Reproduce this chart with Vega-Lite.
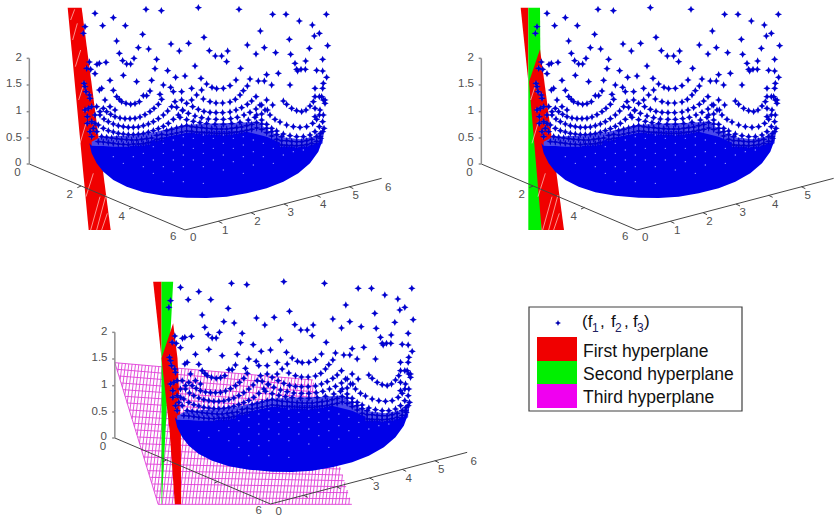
{"$schema":"https://vega.github.io/schema/vega-lite/v6.json","padding":0,"bounds":"flush","spacing":0,"columns":2,
"config":{"view":{"stroke":null},"font":"Liberation Sans","concat":{"spacing":0}},
"datasets":{
"stars":[{"x":285,"y":40},{"x":340,"y":53},{"x":438,"y":28},{"x":484,"y":32},{"x":595,"y":23},{"x":717,"y":28},{"x":818,"y":43},{"x":858,"y":43},{"x":979,"y":43},{"x":898,"y":63},{"x":937,"y":75},{"x":308,"y":77},{"x":376,"y":77},{"x":255,"y":80},{"x":250,"y":100},{"x":781,"y":93},{"x":958,"y":100},{"x":943,"y":108},{"x":428,"y":103},{"x":612,"y":112},{"x":350,"y":123},{"x":868,"y":118},{"x":983,"y":137},{"x":513,"y":132},{"x":566,"y":130},{"x":742,"y":135},{"x":793,"y":143},{"x":628,"y":152},{"x":683,"y":153},{"x":538,"y":153},{"x":446,"y":147},{"x":928,"y":145},{"x":358,"y":160},{"x":415,"y":143},{"x":402,"y":175},{"x":368,"y":182},{"x":380,"y":192},{"x":392,"y":192},{"x":768,"y":162},{"x":827,"y":158},{"x":646,"y":168},{"x":665,"y":168},{"x":872,"y":163},{"x":917,"y":183},{"x":968,"y":178},{"x":470,"y":178},{"x":680,"y":185},{"x":885,"y":190},{"x":318,"y":187},{"x":298,"y":190},{"x":291,"y":193},{"x":268,"y":186},{"x":585,"y":198},{"x":722,"y":205},{"x":465,"y":206},{"x":260,"y":205},{"x":272,"y":208},{"x":950,"y":211},{"x":968,"y":213},{"x":890,"y":208},{"x":893,"y":213},{"x":903,"y":208},{"x":916,"y":208},{"x":800,"y":224},{"x":835,"y":220},{"x":503,"y":212},{"x":285,"y":221},{"x":370,"y":226},{"x":527,"y":232},{"x":555,"y":228},{"x":603,"y":235},{"x":750,"y":237},{"x":980,"y":232},{"x":970,"y":250},{"x":775,"y":243},{"x":793,"y":243},{"x":708,"y":240},{"x":455,"y":241},{"x":410,"y":245},{"x":330,"y":241},{"x":870,"y":255},{"x":815,"y":255},{"x":252,"y":250},{"x":968,"y":265},{"x":945,"y":265},{"x":305,"y":265},{"x":298,"y":270},{"x":340,"y":271},{"x":490,"y":255},{"x":512,"y":262},{"x":620,"y":252},{"x":636,"y":262},{"x":650,"y":266},{"x":670,"y":265},{"x":690,"y":257},{"x":742,"y":258},{"x":730,"y":272},{"x":545,"y":275},{"x":575,"y":265},{"x":605,"y":270},{"x":520,"y":275},{"x":430,"y":287},{"x":450,"y":273},{"x":480,"y":283},{"x":575,"y":300},
{"x":350,"y":290},{"x":358,"y":298},{"x":365,"y":305},{"x":378,"y":310},{"x":392,"y":313},{"x":405,"y":311},{"x":418,"y":305},{"x":440,"y":287},
{"x":590,"y":285},{"x":610,"y":297},{"x":630,"y":305},{"x":648,"y":309},{"x":668,"y":309},{"x":690,"y":306},{"x":706,"y":298},{"x":720,"y":285},
{"x":850,"y":303},{"x":860,"y":313},{"x":875,"y":325},{"x":890,"y":332},{"x":905,"y":335},{"x":918,"y":330},{"x":930,"y":318},{"x":940,"y":305},{"x":945,"y":290},
{"x":310,"y":325},{"x":320,"y":335},{"x":332,"y":343},{"x":345,"y":350},{"x":360,"y":354},{"x":375,"y":356},{"x":390,"y":356},{"x":405,"y":355},{"x":420,"y":351},{"x":435,"y":344},{"x":450,"y":335},{"x":462,"y":325},{"x":475,"y":313},{"x":485,"y":298},
{"x":300,"y":345},{"x":312,"y":357},{"x":325,"y":365},{"x":340,"y":372},{"x":355,"y":377},{"x":370,"y":380},{"x":385,"y":382},{"x":400,"y":382},{"x":415,"y":381},{"x":430,"y":377},{"x":445,"y":372},{"x":460,"y":365},{"x":475,"y":356},{"x":490,"y":345},{"x":503,"y":333},{"x":515,"y":320},{"x":525,"y":305},
{"x":295,"y":375},{"x":310,"y":385},{"x":325,"y":392},{"x":340,"y":396},{"x":355,"y":400},{"x":370,"y":402},{"x":385,"y":404},{"x":400,"y":404},{"x":415,"y":403},{"x":430,"y":401},{"x":445,"y":397},{"x":460,"y":392},{"x":475,"y":386},{"x":490,"y":379},{"x":505,"y":370},{"x":520,"y":358},{"x":535,"y":345},{"x":548,"y":330},
{"x":545,"y":300},{"x":560,"y":310},{"x":578,"y":320},{"x":595,"y":328},{"x":612,"y":334},{"x":630,"y":337},{"x":648,"y":338},{"x":668,"y":338},{"x":690,"y":336},{"x":708,"y":330},{"x":725,"y":323},{"x":742,"y":313},{"x":755,"y":303},{"x":768,"y":290},
{"x":530,"y":322},{"x":548,"y":332},{"x":565,"y":340},{"x":585,"y":348},{"x":605,"y":353},{"x":625,"y":357},{"x":648,"y":358},{"x":670,"y":358},{"x":692,"y":356},{"x":712,"y":352},{"x":732,"y":345},{"x":750,"y":337},{"x":768,"y":327},{"x":785,"y":315},{"x":800,"y":300},
{"x":540,"y":352},{"x":560,"y":359},{"x":580,"y":364},{"x":600,"y":368},{"x":620,"y":371},{"x":645,"y":373},{"x":670,"y":373},{"x":695,"y":371},{"x":720,"y":367},{"x":745,"y":360},{"x":765,"y":352},{"x":785,"y":342},{"x":802,"y":330},{"x":818,"y":315},
{"x":780,"y":315},{"x":795,"y":330},{"x":810,"y":345},{"x":825,"y":358},{"x":840,"y":366},{"x":860,"y":375},{"x":880,"y":380},{"x":900,"y":382},{"x":920,"y":380},{"x":938,"y":370},{"x":950,"y":358},{"x":958,"y":345},
{"x":770,"y":345},{"x":785,"y":360},{"x":800,"y":373},{"x":815,"y":385},{"x":830,"y":393},{"x":850,"y":402},{"x":870,"y":407},{"x":890,"y":410},{"x":910,"y":410},{"x":930,"y":405},{"x":945,"y":395},{"x":958,"y":380},
{"x":970,"y":300},{"x":965,"y":290},{"x":958,"y":290},{"x":975,"y":300},{"x":975,"y":310},{"x":970,"y":345},{"x":968,"y":365},{"x":972,"y":385},{"x":968,"y":395},{"x":960,"y":410},{"x":945,"y":325},{"x":960,"y":330},{"x":945,"y":350},
{"x":255,"y":260},{"x":258,"y":275},{"x":268,"y":285},{"x":270,"y":295},{"x":255,"y":330},{"x":265,"y":325},{"x":275,"y":320},{"x":262,"y":350},{"x":262,"y":370},{"x":275,"y":365},{"x":285,"y":370},{"x":280,"y":385},{"x":290,"y":395},{"x":270,"y":395},{"x":275,"y":410},{"x":285,"y":345},{"x":290,"y":320},{"x":300,"y":335},{"x":315,"y":300},{"x":330,"y":320},{"x":345,"y":330},
{"x":500,"y":392},{"x":515,"y":388},{"x":530,"y":384},{"x":545,"y":380},{"x":560,"y":377},{"x":575,"y":380},{"x":590,"y":382},{"x":605,"y":383},{"x":620,"y":385},{"x":635,"y":386},{"x":650,"y":387},{"x":665,"y":387},{"x":680,"y":387},{"x":695,"y":385},{"x":710,"y":383},{"x":725,"y":381},{"x":740,"y":377},{"x":755,"y":373},{"x":770,"y":368},{"x":785,"y":372},{"x":800,"y":385},{"x":815,"y":395},{"x":830,"y":404},{"x":845,"y":410},
{"x":470,"y":406},{"x":485,"y":403},{"x":500,"y":405},{"x":515,"y":402},{"x":530,"y":399},{"x":545,"y":396},{"x":560,"y":393},{"x":575,"y":394},{"x":590,"y":396},{"x":605,"y":397},{"x":620,"y":398},{"x":635,"y":399},{"x":650,"y":400},{"x":665,"y":400},{"x":680,"y":400},{"x":695,"y":398},{"x":710,"y":396},{"x":725,"y":394},{"x":740,"y":391},{"x":755,"y":388},{"x":770,"y":384},{"x":785,"y":388},{"x":800,"y":398},{"x":815,"y":408},
{"x":305,"y":410},{"x":320,"y":412},{"x":335,"y":414},{"x":350,"y":416},{"x":365,"y":418},{"x":380,"y":419},{"x":395,"y":420},{"x":410,"y":420},{"x":425,"y":418},{"x":440,"y":416},{"x":455,"y":414},{"x":470,"y":418},{"x":485,"y":415},{"x":830,"y":418},{"x":845,"y":422},{"x":860,"y":422},{"x":875,"y":424},{"x":890,"y":425},{"x":905,"y":425},{"x":920,"y":422},{"x":935,"y":418},{"x":950,"y":410},{"x":962,"y":400},
{"x":295,"y":425},{"x":310,"y":426},{"x":325,"y":428},{"x":340,"y":430},{"x":355,"y":432},{"x":370,"y":433},{"x":385,"y":434},{"x":400,"y":432},{"x":415,"y":432},{"x":430,"y":431},{"x":445,"y":428},{"x":845,"y":435},{"x":860,"y":436},{"x":875,"y":436},{"x":890,"y":437},{"x":905,"y":436},{"x":920,"y":434},{"x":935,"y":430},{"x":950,"y":424},{"x":962,"y":415}],
"band":[{"x":275,"y":450,"y2":425},{"x":300,"y":450,"y2":412},{"x":350,"y":450,"y2":408},{"x":400,"y":450,"y2":406},{"x":450,"y":450,"y2":400},{"x":500,"y":450,"y2":388},{"x":560,"y":450,"y2":374},{"x":650,"y":450,"y2":370},{"x":720,"y":450,"y2":368},{"x":770,"y":450,"y2":364},{"x":810,"y":450,"y2":395},{"x":850,"y":450,"y2":412},{"x":900,"y":450,"y2":418},{"x":940,"y":450,"y2":410},{"x":968,"y":430,"y2":390}],
"bowl":[{"x":268,"y":430,"y2":430},{"x":275,"y":460,"y2":437},{"x":290,"y":490,"y2":438},{"x":310,"y":515,"y2":438},{"x":340,"y":540,"y2":440},{"x":380,"y":560,"y2":440},{"x":430,"y":577,"y2":428},{"x":490,"y":587,"y2":412},{"x":560,"y":593,"y2":398},{"x":620,"y":594,"y2":392},{"x":680,"y":590,"y2":392},{"x":740,"y":580,"y2":395},{"x":800,"y":565,"y2":410},{"x":850,"y":545,"y2":432},{"x":895,"y":520,"y2":440},{"x":930,"y":490,"y2":436},{"x":955,"y":455,"y2":425},{"x":968,"y":420,"y2":405},{"x":972,"y":395,"y2":395}],
"speckle":[{"x":340,"y":470},{"x":370,"y":490},{"x":400,"y":470},{"x":430,"y":500},{"x":430,"y":460},{"x":460,"y":440},{"x":460,"y":480},{"x":460,"y":520},{"x":490,"y":430},{"x":490,"y":460},{"x":490,"y":500},{"x":490,"y":545},{"x":520,"y":420},{"x":520,"y":450},{"x":520,"y":480},{"x":520,"y":515},{"x":550,"y":410},{"x":550,"y":435},{"x":550,"y":465},{"x":550,"y":500},{"x":550,"y":545},{"x":580,"y":415},{"x":580,"y":445},{"x":580,"y":480},{"x":610,"y":405},{"x":610,"y":430},{"x":610,"y":460},{"x":610,"y":500},{"x":610,"y":550},{"x":640,"y":415},{"x":640,"y":445},{"x":640,"y":480},{"x":670,"y":405},{"x":670,"y":430},{"x":670,"y":465},{"x":670,"y":510},{"x":700,"y":415},{"x":700,"y":445},{"x":700,"y":485},{"x":730,"y":410},{"x":730,"y":435},{"x":730,"y":470},{"x":730,"y":520},{"x":760,"y":420},{"x":760,"y":455},{"x":760,"y":495},{"x":790,"y":430},{"x":790,"y":470},{"x":820,"y":445},{"x":820,"y":490},{"x":850,"y":465},{"x":880,"y":455},{"x":910,"y":450}],
"frame":[{"x":88,"y":492,"x2":555,"y2":690},{"x":555,"y":690,"x2":1145,"y2":535},{"x":232,"y":563,"x2":243,"y2":558},{"x":387,"y":627,"x2":398,"y2":622},{"x":655,"y":664,"x2":667,"y2":670},{"x":753,"y":638,"x2":765,"y2":644},{"x":852,"y":612,"x2":864,"y2":618},{"x":950,"y":586,"x2":962,"y2":592},{"x":1048,"y":560,"x2":1060,"y2":566}],
"zaxis":[{"x":88,"y":175,"x2":88,"y2":492},{"x":80,"y":175,"x2":88,"y2":175},{"x":80,"y":255,"x2":88,"y2":255},{"x":80,"y":335,"x2":88,"y2":335},{"x":80,"y":414,"x2":88,"y2":414},{"x":80,"y":492,"x2":88,"y2":492}],
"ticklabels":[{"x":66,"y":182,"t":"2","s":"all"},{"x":66,"y":262,"t":"1.5","s":"all"},{"x":66,"y":342,"t":"1","s":"all"},{"x":66,"y":422,"t":"0.5","s":"all"},{"x":64,"y":497,"t":"0","s":"all"},{"x":62,"y":529,"t":"0","s":"all"},{"x":219,"y":594,"t":"2","s":"front"},{"x":375,"y":659,"t":"4","s":"front"},{"x":529,"y":720,"t":"6","s":"all"},{"x":589,"y":722,"t":"0","s":"all"},{"x":685,"y":701,"t":"1","s":"front"},{"x":782,"y":675,"t":"2","s":"front"},{"x":882,"y":648,"t":"3","s":"all"},{"x":979,"y":624,"t":"4","s":"all"},{"x":1077,"y":598,"t":"5","s":"all"},{"x":1174,"y":572,"t":"6","s":"all"}],
"red1":[{"y":23,"x":203,"x2":245},{"y":690,"x":266,"x2":332}],
"hatch":[{"x":272,"y":690,"x2":300,"y2":590},{"x":290,"y":690,"x2":318,"y2":585},{"x":305,"y":690,"x2":322,"y2":640},{"x":258,"y":590,"x2":280,"y2":520},{"x":240,"y":430,"x2":258,"y2":370},{"x":236,"y":300,"x2":252,"y2":250},{"x":226,"y":200,"x2":242,"y2":150},{"x":218,"y":120,"x2":232,"y2":70},{"x":212,"y":60,"x2":224,"y2":28}],
"red2top":[{"y":23,"x":206,"x2":229},{"y":245,"x":229,"x2":229}],
"green2":[{"y":23,"x":229,"x2":264},{"y":690,"x":229,"x2":269}],
"red2low":[{"y":148,"x":264,"x2":264},{"y":245,"x":231,"x2":277},{"y":690,"x":269,"x2":336}],
"red3top":[{"y":23,"x":203,"x2":228},{"y":253,"x":228,"x2":228}],
"green3":[{"y":23,"x":228,"x2":263},{"y":253,"x":228,"x2":251},{"y":691,"x":228,"x2":229}],
"red3low":[{"y":148,"x":263,"x2":263},{"y":253,"x":228,"x2":276},{"y":468,"x":252,"x2":286},{"y":691,"x":268,"x2":287}],
"mesh":[{"x":88,"y":266,"x2":682,"y2":318},{"x":95,"y":286,"x2":687,"y2":336},{"x":101,"y":306,"x2":693,"y2":354},{"x":107,"y":327,"x2":698,"y2":371},{"x":113,"y":347,"x2":704,"y2":389},{"x":119,"y":367,"x2":710,"y2":407},{"x":126,"y":387,"x2":715,"y2":425},{"x":132,"y":408,"x2":721,"y2":443},{"x":138,"y":428,"x2":726,"y2":460},{"x":144,"y":448,"x2":732,"y2":478},{"x":150,"y":468,"x2":738,"y2":496},{"x":157,"y":489,"x2":743,"y2":514},{"x":163,"y":509,"x2":749,"y2":531},{"x":169,"y":529,"x2":754,"y2":549},{"x":175,"y":549,"x2":760,"y2":567},{"x":181,"y":570,"x2":766,"y2":585},{"x":188,"y":590,"x2":771,"y2":603},{"x":194,"y":610,"x2":777,"y2":620},{"x":200,"y":630,"x2":782,"y2":638},{"x":206,"y":651,"x2":788,"y2":656},{"x":212,"y":671,"x2":794,"y2":674},{"x":218,"y":691,"x2":799,"y2":691},{"x":88,"y":266,"x2":218,"y2":691},
{"x":100,"y":267,"x2":97,"y2":293},{"x":110,"y":268,"x2":104,"y2":317},{"x":120,"y":269,"x2":111,"y2":340},{"x":130,"y":270,"x2":118,"y2":364},{"x":140,"y":270,"x2":125,"y2":388},{"x":150,"y":271,"x2":133,"y2":412},{"x":160,"y":272,"x2":140,"y2":435},{"x":170,"y":273,"x2":147,"y2":459},{"x":180,"y":274,"x2":155,"y2":483},{"x":190,"y":275,"x2":162,"y2":507},{"x":200,"y":276,"x2":170,"y2":531},{"x":210,"y":277,"x2":177,"y2":554},{"x":220,"y":278,"x2":184,"y2":578},{"x":230,"y":279,"x2":192,"y2":602},{"x":240,"y":279,"x2":199,"y2":626},{"x":250,"y":280,"x2":206,"y2":649},{"x":260,"y":281,"x2":213,"y2":673},
{"x":269,"y":282,"x2":220,"y2":691},{"x":279,"y":283,"x2":230,"y2":691},{"x":289,"y":284,"x2":240,"y2":691},{"x":299,"y":285,"x2":250,"y2":691},{"x":309,"y":285,"x2":260,"y2":691},{"x":319,"y":286,"x2":270,"y2":691},{"x":329,"y":287,"x2":280,"y2":691},{"x":339,"y":288,"x2":290,"y2":691},{"x":349,"y":289,"x2":300,"y2":691},{"x":359,"y":290,"x2":310,"y2":691},{"x":369,"y":291,"x2":320,"y2":691},{"x":379,"y":291,"x2":330,"y2":691},{"x":389,"y":292,"x2":340,"y2":691},{"x":399,"y":293,"x2":350,"y2":691},{"x":409,"y":294,"x2":360,"y2":691},{"x":419,"y":295,"x2":370,"y2":691},{"x":429,"y":296,"x2":380,"y2":691},{"x":439,"y":297,"x2":390,"y2":691},{"x":449,"y":297,"x2":400,"y2":691},{"x":459,"y":298,"x2":410,"y2":691},{"x":469,"y":299,"x2":420,"y2":691},{"x":479,"y":300,"x2":430,"y2":691},{"x":489,"y":301,"x2":440,"y2":691},{"x":499,"y":302,"x2":450,"y2":691},{"x":509,"y":303,"x2":460,"y2":691},{"x":519,"y":303,"x2":470,"y2":691},{"x":529,"y":304,"x2":480,"y2":691},{"x":539,"y":305,"x2":490,"y2":691},{"x":549,"y":306,"x2":500,"y2":691},{"x":559,"y":307,"x2":510,"y2":691},{"x":569,"y":308,"x2":520,"y2":691},{"x":579,"y":309,"x2":530,"y2":691},{"x":589,"y":309,"x2":540,"y2":691},{"x":599,"y":310,"x2":550,"y2":691},{"x":609,"y":311,"x2":560,"y2":691},{"x":619,"y":312,"x2":570,"y2":691},{"x":629,"y":313,"x2":580,"y2":691},{"x":639,"y":314,"x2":590,"y2":691},{"x":649,"y":315,"x2":600,"y2":691},{"x":659,"y":315,"x2":610,"y2":691},{"x":669,"y":316,"x2":620,"y2":691},{"x":679,"y":317,"x2":630,"y2":691},{"x":684,"y":326,"x2":640,"y2":691},{"x":690,"y":349,"x2":650,"y2":691},{"x":697,"y":372,"x2":660,"y2":691},{"x":703,"y":395,"x2":670,"y2":691},{"x":709,"y":418,"x2":680,"y2":691},{"x":716,"y":441,"x2":690,"y2":691},{"x":727,"y":464,"x2":700,"y2":691},{"x":734,"y":487,"x2":710,"y2":691},{"x":741,"y":510,"x2":720,"y2":691},{"x":749,"y":533,"x2":730,"y2":691},{"x":756,"y":556,"x2":740,"y2":691},{"x":763,"y":579,"x2":750,"y2":691},{"x":771,"y":602,"x2":760,"y2":691},{"x":778,"y":625,"x2":770,"y2":691},{"x":785,"y":648,"x2":780,"y2":691},{"x":792,"y":671,"x2":790,"y2":691}]
},
"concat":[
{"width":452,"height":274,
"encoding":{"x":{"field":"x","type":"quantitative","scale":{"domain":[0,1356]},"axis":null},"y":{"field":"y","type":"quantitative","scale":{"domain":[822,0]},"axis":null}},
"layer":[
{"data":{"name":"red1"},"mark":{"type":"area","orient":"horizontal","color":"#f00000","clip":true},"encoding":{"x2":{"field":"x2"}}},
{"data":{"name":"hatch"},"mark":{"type":"rule","color":"#ffd0c8","strokeWidth":0.7,"clip":true},"encoding":{"x2":{"field":"x2"},"y2":{"field":"y2"}}},
{"data":{"name":"frame"},"mark":{"type":"rule","color":"#444444","strokeWidth":1,"clip":true},"encoding":{"x2":{"field":"x2"},"y2":{"field":"y2"}}},
{"data":{"name":"zaxis"},"mark":{"type":"rule","color":"#909090","strokeWidth":1.5,"clip":true},"encoding":{"x2":{"field":"x2"},"y2":{"field":"y2"}}},
{"data":{"name":"ticklabels"},"mark":{"type":"text","align":"right","baseline":"alphabetic","fontSize":11.5,"color":"#505050","clip":true},"encoding":{"text":{"field":"t"}}},
{"data":{"name":"band"},"mark":{"type":"area","orient":"vertical","color":"#4a4aea","clip":true},"encoding":{"y2":{"field":"y2"}}},
{"data":{"name":"bowl"},"mark":{"type":"area","orient":"vertical","color":"#0000e8","clip":true},"encoding":{"y2":{"field":"y2"}}},
{"data":{"name":"speckle"},"mark":{"type":"point","filled":true,"size":2,"color":"#a8a8ff","opacity":0.9,"clip":true}},
{"data":{"name":"stars"},"mark":{"type":"point","shape":"circle","filled":true,"size":16,"color":"#a6a6dc","opacity":0.75,"clip":true}},
{"data":{"name":"stars"},"mark":{"type":"point","shape":"M0,-1L0.3,-0.3L1,0L0.3,0.3L0,1L-0.3,0.3L-1,0L-0.3,-0.3Z","filled":true,"size":55,"color":"#0000d0","opacity":1,"clip":true}}
]},
{"width":383,"height":274,
"encoding":{"x":{"field":"x","type":"quantitative","scale":{"domain":[0,1149]},"axis":null},"y":{"field":"y","type":"quantitative","scale":{"domain":[822,0]},"axis":null}},
"layer":[
{"data":{"name":"red2top"},"mark":{"type":"area","orient":"horizontal","color":"#f00000","clip":true},"encoding":{"x2":{"field":"x2"}}},
{"data":{"name":"green2"},"mark":{"type":"area","orient":"horizontal","color":"#00f000","clip":true},"encoding":{"x2":{"field":"x2"}}},
{"data":{"name":"red2low"},"mark":{"type":"area","orient":"horizontal","color":"#f00000","clip":true},"encoding":{"x2":{"field":"x2"}}},
{"data":{"name":"hatch"},"transform":[{"filter":"datum.y>250"}],"mark":{"type":"rule","color":"#ffd0c8","strokeWidth":0.7,"clip":true},"encoding":{"x2":{"field":"x2"},"y2":{"field":"y2"}}},
{"data":{"name":"frame"},"mark":{"type":"rule","color":"#444444","strokeWidth":1,"clip":true},"encoding":{"x2":{"field":"x2"},"y2":{"field":"y2"}}},
{"data":{"name":"zaxis"},"mark":{"type":"rule","color":"#909090","strokeWidth":1.5,"clip":true},"encoding":{"x2":{"field":"x2"},"y2":{"field":"y2"}}},
{"data":{"name":"ticklabels"},"transform":[{"filter":"datum.x<1150"}],"mark":{"type":"text","align":"right","baseline":"alphabetic","fontSize":11.5,"color":"#505050","clip":true},"encoding":{"text":{"field":"t"}}},
{"data":{"name":"band"},"mark":{"type":"area","orient":"vertical","color":"#4a4aea","clip":true},"encoding":{"y2":{"field":"y2"}}},
{"data":{"name":"bowl"},"mark":{"type":"area","orient":"vertical","color":"#0000e8","clip":true},"encoding":{"y2":{"field":"y2"}}},
{"data":{"name":"speckle"},"mark":{"type":"point","filled":true,"size":2,"color":"#a8a8ff","opacity":0.9,"clip":true}},
{"data":{"name":"stars"},"mark":{"type":"point","shape":"circle","filled":true,"size":16,"color":"#a6a6dc","opacity":0.75,"clip":true}},
{"data":{"name":"stars"},"mark":{"type":"point","shape":"M0,-1L0.3,-0.3L1,0L0.3,0.3L0,1L-0.3,0.3L-1,0L-0.3,-0.3Z","filled":true,"size":55,"color":"#0000d0","opacity":1,"clip":true}}
]},
{"width":452,"height":242,
"encoding":{"x":{"field":"x","type":"quantitative","scale":{"domain":[-256.5,1099.5]},"axis":null},"y":{"field":"y","type":"quantitative","scale":{"domain":[726,0]},"axis":null}},
"layer":[
{"data":{"name":"mesh"},"mark":{"type":"rule","color":"#e040d8","strokeWidth":0.9},"encoding":{"x2":{"field":"x2"},"y2":{"field":"y2"}}},
{"data":{"name":"red3top"},"mark":{"type":"area","orient":"horizontal","color":"#f00000"},"encoding":{"x2":{"field":"x2"}}},
{"data":{"name":"green3"},"mark":{"type":"area","orient":"horizontal","color":"#00f000"},"encoding":{"x2":{"field":"x2"}}},
{"data":{"name":"red3low"},"mark":{"type":"area","orient":"horizontal","color":"#f00000"},"encoding":{"x2":{"field":"x2"}}},
{"data":{"name":"frame"},"mark":{"type":"rule","color":"#444444","strokeWidth":1},"encoding":{"x2":{"field":"x2"},"y2":{"field":"y2"}}},
{"data":{"name":"zaxis"},"mark":{"type":"rule","color":"#909090","strokeWidth":1.5},"encoding":{"x2":{"field":"x2"},"y2":{"field":"y2"}}},
{"data":{"name":"ticklabels"},"transform":[{"filter":"datum.s==='all'"}],"mark":{"type":"text","align":"right","baseline":"alphabetic","fontSize":11.5,"color":"#505050"},"encoding":{"text":{"field":"t"}}},
{"data":{"name":"band"},"mark":{"type":"area","orient":"vertical","color":"#4a4aea"},"encoding":{"y2":{"field":"y2"}}},
{"data":{"name":"bowl"},"mark":{"type":"area","orient":"vertical","color":"#0000e8"},"encoding":{"y2":{"field":"y2"}}},
{"data":{"name":"speckle"},"mark":{"type":"point","filled":true,"size":2,"color":"#a8a8ff","opacity":0.9}},
{"data":{"name":"stars"},"mark":{"type":"point","shape":"circle","filled":true,"size":16,"color":"#a6a6dc","opacity":0.75}},
{"data":{"name":"stars"},"mark":{"type":"point","shape":"M0,-1L0.3,-0.3L1,0L0.3,0.3L0,1L-0.3,0.3L-1,0L-0.3,-0.3Z","filled":true,"size":55,"color":"#0000d0","opacity":1}}
]},
{"width":383,"height":242,
"encoding":{"x":{"field":"x","type":"quantitative","scale":{"domain":[452,835]},"axis":null},"y":{"field":"y","type":"quantitative","scale":{"domain":[516,274]},"axis":null}},
"layer":[
{"data":{"values":[{"x":529,"x2":742,"y":307,"y2":411}]},"mark":{"type":"rect","fill":"#ffffff","stroke":"#404040","strokeWidth":1.2},"encoding":{"x2":{"field":"x2"},"y2":{"field":"y2"}}},
{"data":{"values":[{"name":"First hyperplane","x":537,"x2":577,"y":337,"y2":361},{"name":"Second hyperplane","x":537,"x2":577,"y":361,"y2":384},{"name":"Third hyperplane","x":537,"x2":577,"y":384,"y2":408}]},"mark":{"type":"rect"},"encoding":{"x2":{"field":"x2"},"y2":{"field":"y2"},"color":{"field":"name","type":"nominal","legend":null,"scale":{"domain":["First hyperplane","Second hyperplane","Third hyperplane"],"range":["#f00000","#00f000","#f000f0"]}}}},
{"data":{"values":[{"x":583,"y":357,"t":"First hyperplane"},{"x":583,"y":380,"t":"Second hyperplane"},{"x":583,"y":403,"t":"Third hyperplane"}]},"mark":{"type":"text","align":"left","baseline":"alphabetic","fontSize":17.5,"color":"#111111"},"encoding":{"text":{"field":"t"}}},
{"data":{"values":[{"x":582,"y":327,"t":"(f"},{"x":600,"y":327,"t":","},{"x":611,"y":327,"t":"f"},{"x":624,"y":327,"t":","},{"x":633,"y":327,"t":"f"},{"x":644,"y":327,"t":")"}]},"mark":{"type":"text","align":"left","baseline":"alphabetic","fontSize":17,"color":"#111111"},"encoding":{"text":{"field":"t"}}},
{"data":{"values":[{"x":592,"y":332,"t":"1"},{"x":615,"y":332,"t":"2"},{"x":637,"y":332,"t":"3"}]},"mark":{"type":"text","align":"left","baseline":"alphabetic","fontSize":12,"color":"#202060"},"encoding":{"text":{"field":"t"}}},
{"data":{"values":[{"x":558,"y":323}]},"mark":{"type":"point","shape":"M0,-1L0.3,-0.3L1,0L0.3,0.3L0,1L-0.3,0.3L-1,0L-0.3,-0.3Z","filled":true,"size":36,"color":"#0000b0","opacity":1}}
]}
]}
